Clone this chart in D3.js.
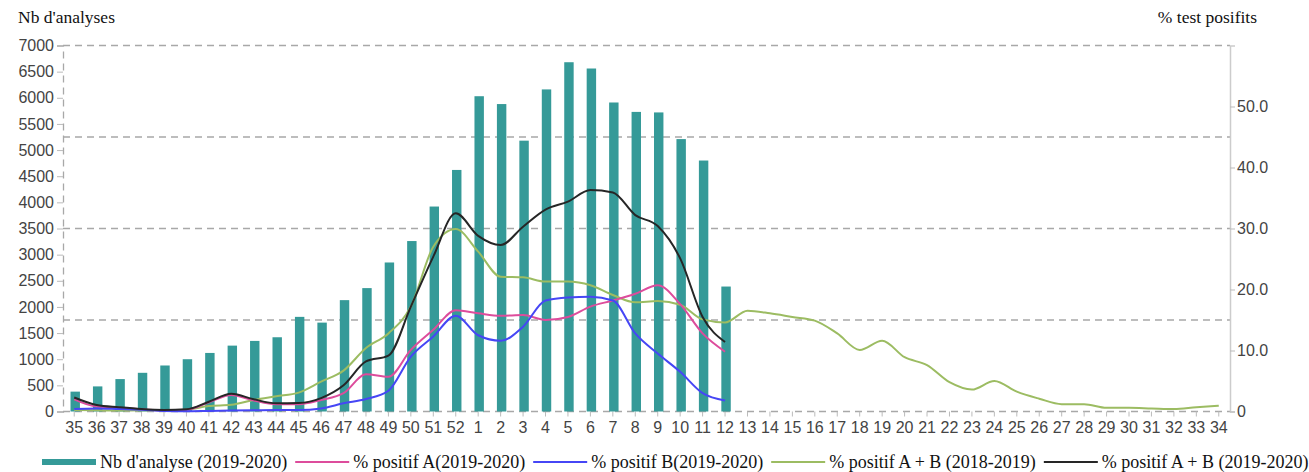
<!DOCTYPE html>
<html>
<head>
<meta charset="utf-8">
<script src="https://cdn.jsdelivr.net/npm/d3@7"></script>
<style>
  body { margin: 0; background: #fff; }
  .tick text { fill: #444; font-family: "Liberation Sans", Arial, sans-serif; font-size: 16px; }
  .title { font-family: "Liberation Serif", "Times New Roman", serif; font-size: 17.5px; fill: #111; }
  .legend text { font-family: "Liberation Serif", "Times New Roman", serif; font-size: 18px; fill: #111; }
</style>
</head>
<body>
<div id="chart"></div>
<script>
// data
let weeks = ["35","36","37","38","39","40","41","42","43","44","45","46","47","48","49","50","51","52",
  "1","2","3","4","5","6","7","8","9","10","11","12","13","14","15","16","17","18","19","20","21","22",
  "23","24","25","26","27","28","29","30","31","32","33","34"];

let nbAnalyses = [380, 480, 620, 740, 880, 1000, 1120, 1260, 1350, 1420, 1810, 1700, 2130, 2360, 2850, 3260,
  3920, 4620, 6030, 5880, 5180, 6160, 6680, 6560, 5910, 5730, 5720, 5210, 4800, 2390];

let pctA = [2.0, 0.8, 0.6, 0.35, 0.15, 0.25, 1.5, 2.7, 1.8, 1.2, 1.2, 1.9, 3.0, 6.1, 5.7, 10.1, 13.4, 16.6,
  16.1, 15.7, 15.8, 15.0, 15.5, 17.2, 18.2, 19.3, 20.7, 17.6, 12.8, 9.8];

let pctB = [0.4, 0.5, 0.4, 0.3, 0.1, 0.05, 0.1, 0.15, 0.2, 0.25, 0.25, 0.5, 1.35, 2.05, 3.4, 9.0, 12.3, 15.7,
  12.5, 11.6, 13.9, 18.2, 18.7, 18.8, 18.2, 12.8, 9.5, 6.5, 3.0, 1.8];

let pctAB1819 = [0.25, 0.2, 0.15, 0.2, 0.2, 0.3, 0.9, 1.1, 1.9, 2.5, 3.1, 4.9, 6.7, 10.4, 12.8, 17.2, 27.0, 29.9,
  26.2, 22.1, 22.0, 21.3, 21.3, 20.7, 19.1, 17.9, 18.1, 17.5, 15.1, 14.6,
  16.5, 16.1, 15.5, 14.9, 12.8, 10.1, 11.6, 8.9, 7.6, 4.8, 3.6, 5.0, 3.25, 2.1, 1.2, 1.2, 0.6, 0.6, 0.5, 0.4, 0.7, 0.95];

let pctAB1920 = [2.3, 1.07, 0.7, 0.4, 0.25, 0.35, 1.6, 2.9, 2.0, 1.35, 1.4, 2.2, 4.3, 8.2, 9.15, 17.2, 25.4, 32.5,
  28.8, 27.3, 30.3, 33.1, 34.4, 36.3, 35.9, 32.2, 30.4, 25.1, 15.5, 11.4];

let leftTicks = d3.range(0, 7001, 500);
let rightTicks = [0, 10, 20, 30, 40, 50];
let gridValues = [0, 1750, 3500, 5250, 7000];

let svgWidth = 1309;
let svgHeight = 472;
let margin = { top: 45.5, right: 79, bottom: 60.5, left: 63 };
let width = svgWidth - margin.left - margin.right;
let height = svgHeight - margin.top - margin.bottom;

let svg = d3.select("#chart")
  .append("svg")
  .attr("width", svgWidth)
  .attr("height", svgHeight);

let chartGroup = svg.append("g")
  .attr("transform", `translate(${margin.left}, ${margin.top})`);

// scales
let xScale = d3.scaleBand()
  .domain(weeks)
  .range([0, width]);

let yLeft = d3.scaleLinear()
  .domain([0, 7000])
  .range([height, 0]);

let yRight = d3.scaleLinear()
  .domain([0, 60])
  .range([height, 0]);

let xc = (d, i) => xScale(weeks[i]) + xScale.bandwidth() / 2;

// dashed grid lines
chartGroup.selectAll(".grid")
  .data(gridValues)
  .enter()
  .append("line")
  .attr("x1", 0)
  .attr("x2", width)
  .attr("y1", d => yLeft(d))
  .attr("y2", d => yLeft(d))
  .attr("stroke", "#a8a8a8")
  .attr("stroke-width", 1.3)
  .attr("stroke-dasharray", "7,5");

// left axis
let leftAxis = chartGroup.append("g")
  .call(d3.axisLeft(yLeft).tickValues(leftTicks).tickSize(6).tickPadding(3).tickFormat(d3.format("d")));
leftAxis.select(".domain")
  .attr("stroke", "#a8a8a8")
  .attr("stroke-width", 1.3)
  .attr("stroke-dasharray", "7,5");
leftAxis.selectAll(".tick line").attr("stroke", "#bbb");

// right axis
let rightAxis = chartGroup.append("g")
  .attr("transform", `translate(${width}, 0)`)
  .call(d3.axisRight(yRight).tickValues(rightTicks).tickSize(5).tickPadding(2)
    .tickFormat(d => d === 0 ? "0" : d3.format(".1f")(d)));
rightAxis.select(".domain").attr("stroke", "#ccc").attr("stroke-width", 1.5);
rightAxis.selectAll(".tick line").attr("stroke", "#bbb");

// bottom axis
let bottomAxis = chartGroup.append("g")
  .attr("transform", `translate(0, ${height})`)
  .call(d3.axisBottom(xScale).tickSize(5).tickPadding(5).tickSizeOuter(0));
bottomAxis.select(".domain").remove();
bottomAxis.selectAll(".tick line").attr("stroke", "#bbb");

// bars
let barWidth = xScale.bandwidth() * 0.42;
chartGroup.selectAll(".bar")
  .data(nbAnalyses)
  .enter()
  .append("rect")
  .attr("x", (d, i) => xc(d, i) - barWidth / 2 + 1)
  .attr("y", d => yLeft(d))
  .attr("width", barWidth)
  .attr("height", d => height - yLeft(d))
  .attr("fill", "#359a98");

// lines
let line = d3.line()
  .x((d, i) => xc(d, i))
  .y(d => yRight(d))
  .curve(d3.curveMonotoneX);

let series = [
  { values: pctAB1819, color: "#9cbc62" },
  { values: pctA, color: "#dd4c9c" },
  { values: pctB, color: "#4646f5" },
  { values: pctAB1920, color: "#262626" }
];

series.forEach(s => {
  chartGroup.append("path")
    .attr("d", line(s.values))
    .attr("fill", "none")
    .attr("stroke", s.color)
    .attr("stroke-width", 2);
});

// titles
svg.append("text")
  .attr("class", "title")
  .attr("x", 18)
  .attr("y", 23)
  .text("Nb d'analyses");

svg.append("text")
  .attr("class", "title")
  .attr("x", 1257)
  .attr("y", 23)
  .attr("text-anchor", "end")
  .text("% test posifits");

// legend
let legendItems = [
  { label: "Nb d'analyse (2019-2020)", color: "#359a98", bar: true },
  { label: "% positif A(2019-2020)", color: "#dd4c9c" },
  { label: "% positif B(2019-2020)", color: "#4646f5" },
  { label: "% positif A + B (2018-2019)", color: "#9cbc62" },
  { label: "% positif A + B (2019-2020)", color: "#262626" }
];

let legend = svg.append("g").attr("class", "legend");
let lx = 0;
legendItems.forEach(item => {
  let g = legend.append("g").attr("transform", `translate(${lx}, 0)`);
  g.append("rect")
    .attr("x", 0)
    .attr("y", item.bar ? -3 : -1)
    .attr("width", 54)
    .attr("height", item.bar ? 6 : 2)
    .attr("fill", item.color);
  let t = g.append("text")
    .attr("x", 58)
    .attr("y", 6)
    .text(item.label);
  lx += 58 + t.node().getComputedTextLength() + 8;
});
legend.attr("transform", `translate(42, 462)`);
</script>
</body>
</html>
